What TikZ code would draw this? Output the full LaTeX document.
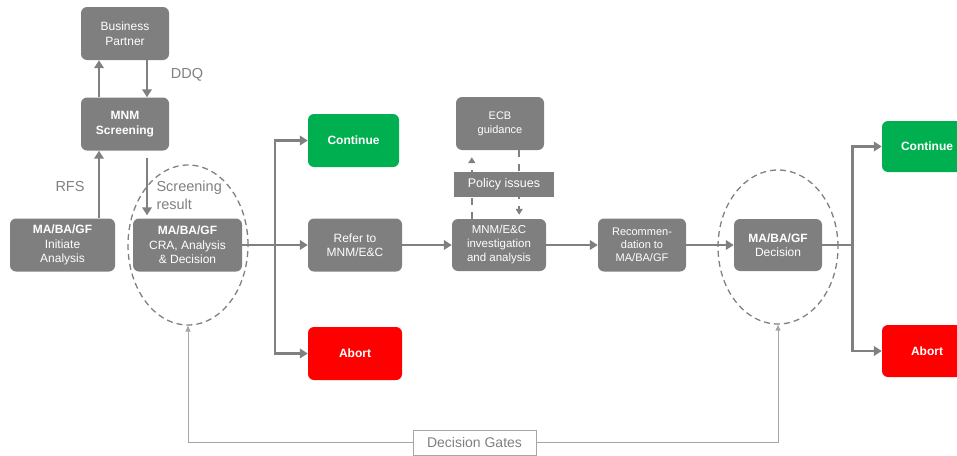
\documentclass[tikz,border=0pt]{standalone}
\usepackage{fontspec}
\setmainfont{Liberation Sans}
\usepackage{tikz}
\usetikzlibrary{arrows.meta,shapes.geometric,calc}
\definecolor{BoxGray}{HTML}{7F7F7F}
\definecolor{LineGray}{HTML}{808080}
\definecolor{GateGray}{HTML}{A6A6A6}
\definecolor{GoGreen}{HTML}{00B050}
\definecolor{StopRed}{HTML}{FF0000}

\begin{document}
\begin{tikzpicture}[x=1pt, y=-1pt,
    stepbox/.style={fill=BoxGray, rounded corners=6pt, text=white, align=center,
      minimum width=88pt, minimum height=53pt, inner sep=2pt,
      font=\fontsize{12}{14.5}\selectfont},
    gobox/.style={stepbox, fill=GoGreen, font=\fontsize{12}{14.5}\selectfont\bfseries},
    stopbox/.style={stepbox, fill=StopRed, font=\fontsize{12}{14.5}\selectfont\bfseries},
    gate/.style={ellipse, draw=LineGray, line width=1.3pt, dash pattern=on 6pt off 4pt,
      minimum width=120pt, inner sep=0pt},
    note/.style={text=LineGray, font=\fontsize{14.5}{18}\selectfont},
    flow/.style={draw=LineGray, line width=2.8pt, -{Triangle[length=8pt,width=9.5pt]}},
    plain/.style={draw=LineGray, line width=2.8pt},
    policy/.style={draw=LineGray, line width=2pt, dash pattern=on 7pt off 7pt,
      -{Triangle[length=6pt,width=7pt]}},
    gateline/.style={draw=GateGray, line width=0.9pt, -{Triangle[length=6pt,width=5pt]}}]
  \useasboundingbox (0,0) rectangle (957,455);

  \node[gate, minimum height=160pt] (gateA) at (188,245) {};
  \node[gate, minimum height=154pt] (gateB) at (778,247) {};

  \node[stepbox] (partner) at (125,33.5) {Business\\Partner};
  \node[stepbox, font=\fontsize{12}{14.5}\selectfont\bfseries] (screen) at (125,124) {MNM\\Screening};
  \node[stepbox, minimum width=105pt] (init) at (62.5,245) {\textbf{MA/BA/GF}\\Initiate\\Analysis};
  \node[stepbox, minimum width=109pt] (cra) at (187.5,245) {\textbf{MA/BA/GF}\\CRA, Analysis\\\& Decision};
  \node[gobox, minimum width=91pt] (contA) at (353.5,140.5) {Continue};
  \node[stepbox, minimum width=94pt] (refer) at (355,245) {Refer to\\MNM/E\&C};
  \node[stopbox, minimum width=94pt] (abortA) at (355,353.5) {Abort};
  \node[stepbox, font=\fontsize{11}{14}\selectfont] (ecb) at (500,123.5) {ECB\\guidance};
  \node[stepbox, minimum width=94pt, minimum height=52pt, font=\fontsize{11.5}{14}\selectfont] (inv) at (499,245)
    {MNM/E\&C\\investigation\\and analysis};
  \node[stepbox, font=\fontsize{11}{13}\selectfont] (rec) at (642,245) {Recommen-\\dation to\\MA/BA/GF};
  \node[stepbox, minimum height=52pt] (dec) at (778,245) {\textbf{MA/BA/GF}\\Decision};
  \node[gobox, minimum width=90pt, minimum height=51pt] (contB) at (927,146.5) {Continue};
  \node[stopbox, minimum width=90pt, minimum height=52pt] (abortB) at (927,351) {Abort};

  \node[note] (ddq) at (187,75) {DDQ};
  \node[note] (rfs) at (70,187) {RFS};
  \node[note, anchor=west, align=left] (result) at (153,195.5) {Screening\\result};

  \draw[flow] ([xshift=-26pt]screen.north) -- ([xshift=-26pt]partner.south);
  \draw[flow] ([xshift=22pt]partner.south) -- ([xshift=22pt]screen.north);
  \draw[flow] ([xshift=36.5pt]init.north) -- ([xshift=-26pt]screen.south);
  \draw[flow] ([xshift=22pt,yshift=-7pt]screen.south) -- ([xshift=-40.5pt,yshift=3pt]cra.north);

  \coordinate (forkA) at ($(cra.east)!0.5!(refer.west)$);
  \draw[flow] (cra.east) -- (refer.west);
  \draw[flow] (forkA) |- (contA.west);
  \draw[flow] (forkA) |- (abortA.west);
  \draw[flow] (refer.east) -- (inv.west);
  \draw[flow] (inv.east) -- (rec.west);
  \draw[flow] (rec.east) -- (dec.west);
  \coordinate (forkB) at ($(dec.east)+(30,0)$);
  \draw[plain] (dec.east) -- (forkB);
  \draw[flow] (forkB) |- (contB.west);
  \draw[flow] (forkB) |- (abortB.west);

  \coordinate[xshift=20pt] (askUp) at (inv.north west);
  \coordinate[xshift=-25pt] (askDown) at (ecb.south east);
  \draw[policy, shorten >=7pt] (askUp) -- (askUp |- ecb.south);
  \draw[policy, shorten >=4pt] (askDown) -- (askDown |- inv.north);
  \node[fill=BoxGray, text=white, minimum width=100pt, minimum height=25pt, inner sep=0pt,
    font=\fontsize{12.5}{14}\selectfont] (issues) at (504,184.5) {Policy issues};

  \node[draw=GateGray, fill=white, line width=0.9pt, minimum width=123pt, minimum height=25pt,
    inner sep=0pt, text=LineGray, font=\fontsize{14}{16}\selectfont] (gates) at (474.5,442.5) {Decision Gates};
  \draw[gateline] (gates.west) -| (gateA.south);
  \draw[gateline] (gates.east) -| (gateB.south);
\end{tikzpicture}
\end{document}
